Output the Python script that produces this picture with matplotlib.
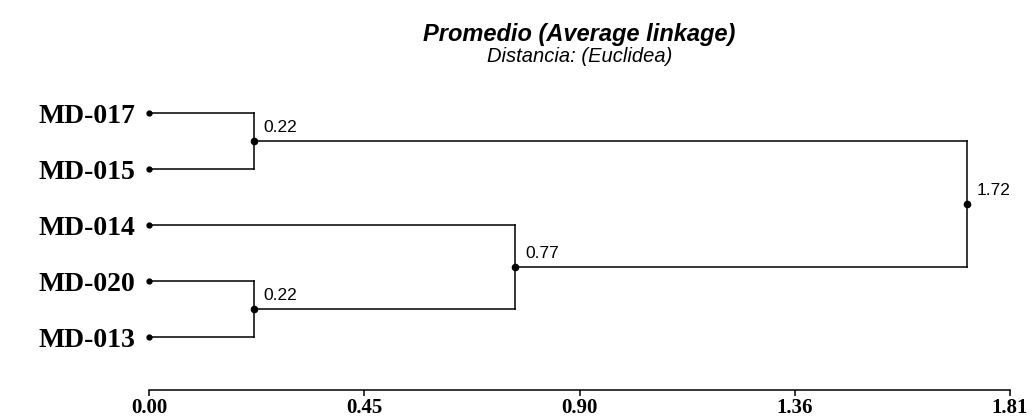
import numpy as np
import matplotlib.pyplot as plt

# leaves in drawing order (top to bottom)
leaves = ['MD-017', 'MD-015', 'MD-014', 'MD-020', 'MD-013']
# merges: (child a, child b, height); nodes 0-4 are leaves, 5.. are clusters
merge_a = [0, 3, 2, 5]
merge_b = [1, 4, 6, 7]
merge_h = [0.22, 0.22, 0.77, 1.72]

x_max = 1.81
tick_labels = ['0.00', '0.45', '0.90', '1.36', '1.81']

title = 'Promedio (Average linkage)'
subtitle = 'Distancia: (Euclidea)'

fig = plt.figure(figsize=(10.34, 4.19), dpi=100)
ax = fig.add_axes([149/1034, 29/419, 861/1034, 305/419])

node_y = list(range(len(leaves)))
node_x = [0.0] * len(leaves)

lw = 1.1
for a, b, h in zip(merge_a, merge_b, merge_h):
    ya, yb = node_y[a], node_y[b]
    ax.plot([node_x[a], h], [ya, ya], color='black', lw=lw)
    ax.plot([node_x[b], h], [yb, yb], color='black', lw=lw)
    ax.plot([h, h], [ya, yb], color='black', lw=lw)
    y = (ya + yb) / 2.0
    node_y.append(y)
    node_x.append(h)
    ax.plot(h, y, 'o', color='black', ms=4.5)
    ax.annotate('%.2f' % h, (h, y), xytext=(7, 4), textcoords='offset points',
                ha='left', va='bottom', fontsize=12.5, family='Liberation Sans')

# dots at the leaves
ax.plot(np.zeros(len(leaves)), range(len(leaves)), 'o', color='black', ms=3.5,
        clip_on=False)

ax.set_xlim(0, x_max)
ax.set_ylim(4.946, -0.5)

ax.set_yticks(range(len(leaves)))
ax.set_yticklabels(leaves, family='Liberation Serif', weight='bold', fontsize=20)
ax.tick_params(axis='y', length=0, pad=10)

ax.set_xticks(np.linspace(0, x_max, len(tick_labels)))
ax.set_xticklabels(tick_labels, family='Liberation Serif', weight='bold', fontsize=15)
ax.tick_params(axis='x', length=4, width=1.1, pad=1.5)

for s in ['left', 'top', 'right']:
    ax.spines[s].set_visible(False)
ax.spines['bottom'].set_linewidth(1.1)

fig.text(579.5/1034, 1 - 35/419, title, ha='center', va='center',
         family='Liberation Sans', weight='bold', style='italic', fontsize=17)
fig.text(579.5/1034, 1 - 57/419, subtitle, ha='center', va='center',
         family='Liberation Sans', style='italic', fontsize=14.5)

fig.savefig('out.png', dpi=100)
